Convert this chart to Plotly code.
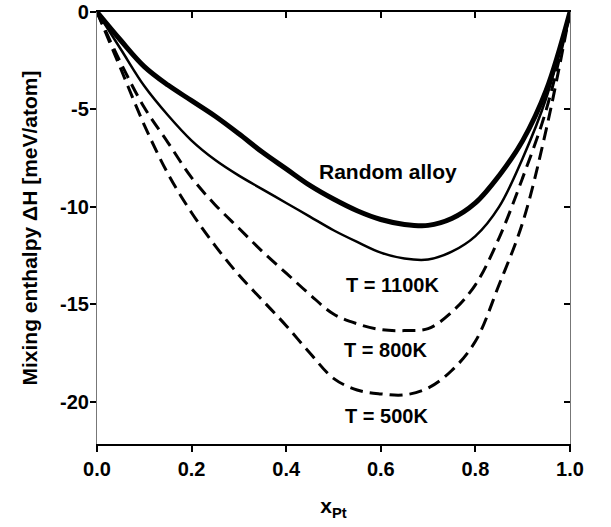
import plotly.graph_objects as go

x_pt = [0, 0.05, 0.1, 0.15, 0.2, 0.25, 0.3, 0.35, 0.4, 0.45, 0.5, 0.55,
        0.6, 0.65, 0.7, 0.75, 0.8, 0.85, 0.9, 0.95, 1.0]

random_alloy = [0, -1.45, -2.8, -3.75, -4.55, -5.35, -6.25, -7.2, -8.05, -8.9, -9.6, -10.2,
                -10.65, -10.9, -10.95, -10.6, -9.8, -8.4, -6.6, -4.0, 0]
t1100 = [0, -1.9, -3.8, -5.3, -6.6, -7.6, -8.4, -9.1, -9.8, -10.5, -11.2, -11.8,
         -12.35, -12.65, -12.7, -12.3, -11.5, -10.0, -7.5, -4.4, 0]
t800 = [0, -2.6, -4.9, -6.7, -8.5, -9.9, -11.1, -12.3, -13.4, -14.5, -15.5, -16.0,
        -16.3, -16.35, -16.25, -15.4, -14.0, -11.6, -8.5, -5.0, 0]
t500 = [0, -2.9, -5.8, -8.3, -10.3, -12.0, -13.5, -14.8, -16.1, -17.5, -18.8, -19.4,
        -19.6, -19.65, -19.3, -18.4, -16.9, -14.0, -10.8, -6.0, 0]

labels = ["Random alloy", "T = 1100K", "T = 800K", "T = 500K"]
label_x = [0.615, 0.624, 0.610, 0.613]
label_y = [-8.16, -14.0, -17.34, -20.73]
label_size = [21, 20, 20, 20]

x_ticks = [0, 0.2, 0.4, 0.6, 0.8, 1.0]
x_ticktext = ["0.0", "0.2", "0.4", "0.6", "0.8", "1.0"]
y_ticks = [0, -5, -10, -15, -20]
y_ticktext = ["0", "-5", "-10", "-15", "-20"]

FONT = "Liberation Sans, Arial, Helvetica, sans-serif"

fig = go.Figure()
fig.add_trace(go.Scatter(x=x_pt, y=random_alloy, mode="lines", line_shape="spline",
                         line=dict(color="black", width=5), showlegend=False))
fig.add_trace(go.Scatter(x=x_pt, y=t1100, mode="lines", line_shape="spline",
                         line=dict(color="black", width=2.5), showlegend=False))
fig.add_trace(go.Scatter(x=x_pt, y=t800, mode="lines", line_shape="spline",
                         line=dict(color="black", width=3, dash="13px,7px"), showlegend=False))
fig.add_trace(go.Scatter(x=x_pt, y=t500, mode="lines", line_shape="spline",
                         line=dict(color="black", width=3, dash="13px,7px"), showlegend=False))
# invisible trace for mirrored axes
fig.add_trace(go.Scatter(x=[0.5], y=[-10], xaxis="x2", yaxis="y2", mode="lines",
                         line=dict(width=0), showlegend=False, hoverinfo="skip"))

for t, lx, ly, s in zip(labels, label_x, label_y, label_size):
    fig.add_annotation(x=lx, y=ly, text=t, showarrow=False,
                       font=dict(family=FONT, size=s, color="black", weight="bold"))

yr = [-22.17, 0]
fig.update_layout(
    width=611, height=527,
    margin=dict(l=97, r=41, t=12, b=83),
    plot_bgcolor="white", paper_bgcolor="white",
    font=dict(family=FONT, color="black"),
    xaxis=dict(range=[0, 1], tickvals=x_ticks, ticktext=x_ticktext, automargin=False,
               ticks="outside", ticklen=6, tickwidth=1.5, tickcolor="black",
               showline=True, linecolor="black", linewidth=1.5,
               showgrid=False, zeroline=False, ticklabeloverflow="allow",
               tickfont=dict(family=FONT, size=20, weight="bold"),
               title=dict(text="x<sub>Pt</sub>", standoff=20,
                          font=dict(family=FONT, size=21, weight="bold"))),
    yaxis=dict(range=yr, tickvals=y_ticks, ticktext=y_ticktext, automargin=False,
               ticks="outside", ticklen=6, tickwidth=1.5, tickcolor="black",
               showline=True, linecolor="#777", linewidth=1.2,
               showgrid=False, zeroline=False, ticklabelstandoff=-3,
               ticklabeloverflow="allow",
               tickfont=dict(family=FONT, size=20, weight="bold"),
               title=dict(text="Mixing enthalpy \u0394H [meV/atom]", standoff=16,
                          font=dict(family=FONT, size=21, weight="bold"))),
    xaxis2=dict(range=[0, 1], overlaying="x", side="top", anchor="y", automargin=False,
                tickvals=x_ticks, ticks="inside", ticklen=6, tickwidth=1.5,
                tickcolor="black", showticklabels=False,
                showline=True, linecolor="black", linewidth=1.5,
                showgrid=False, zeroline=False),
    yaxis2=dict(range=yr, overlaying="y", side="right", anchor="x", automargin=False,
                tickvals=y_ticks, ticks="inside", ticklen=6, tickwidth=1.5,
                tickcolor="black", showticklabels=False,
                showline=True, linecolor="#777", linewidth=1.2,
                showgrid=False, zeroline=False),
)

fig.write_html("out.html", config={"displayModeBar": False},
               post_script="document.body.style.margin='0';document.body.style.padding='0';")
